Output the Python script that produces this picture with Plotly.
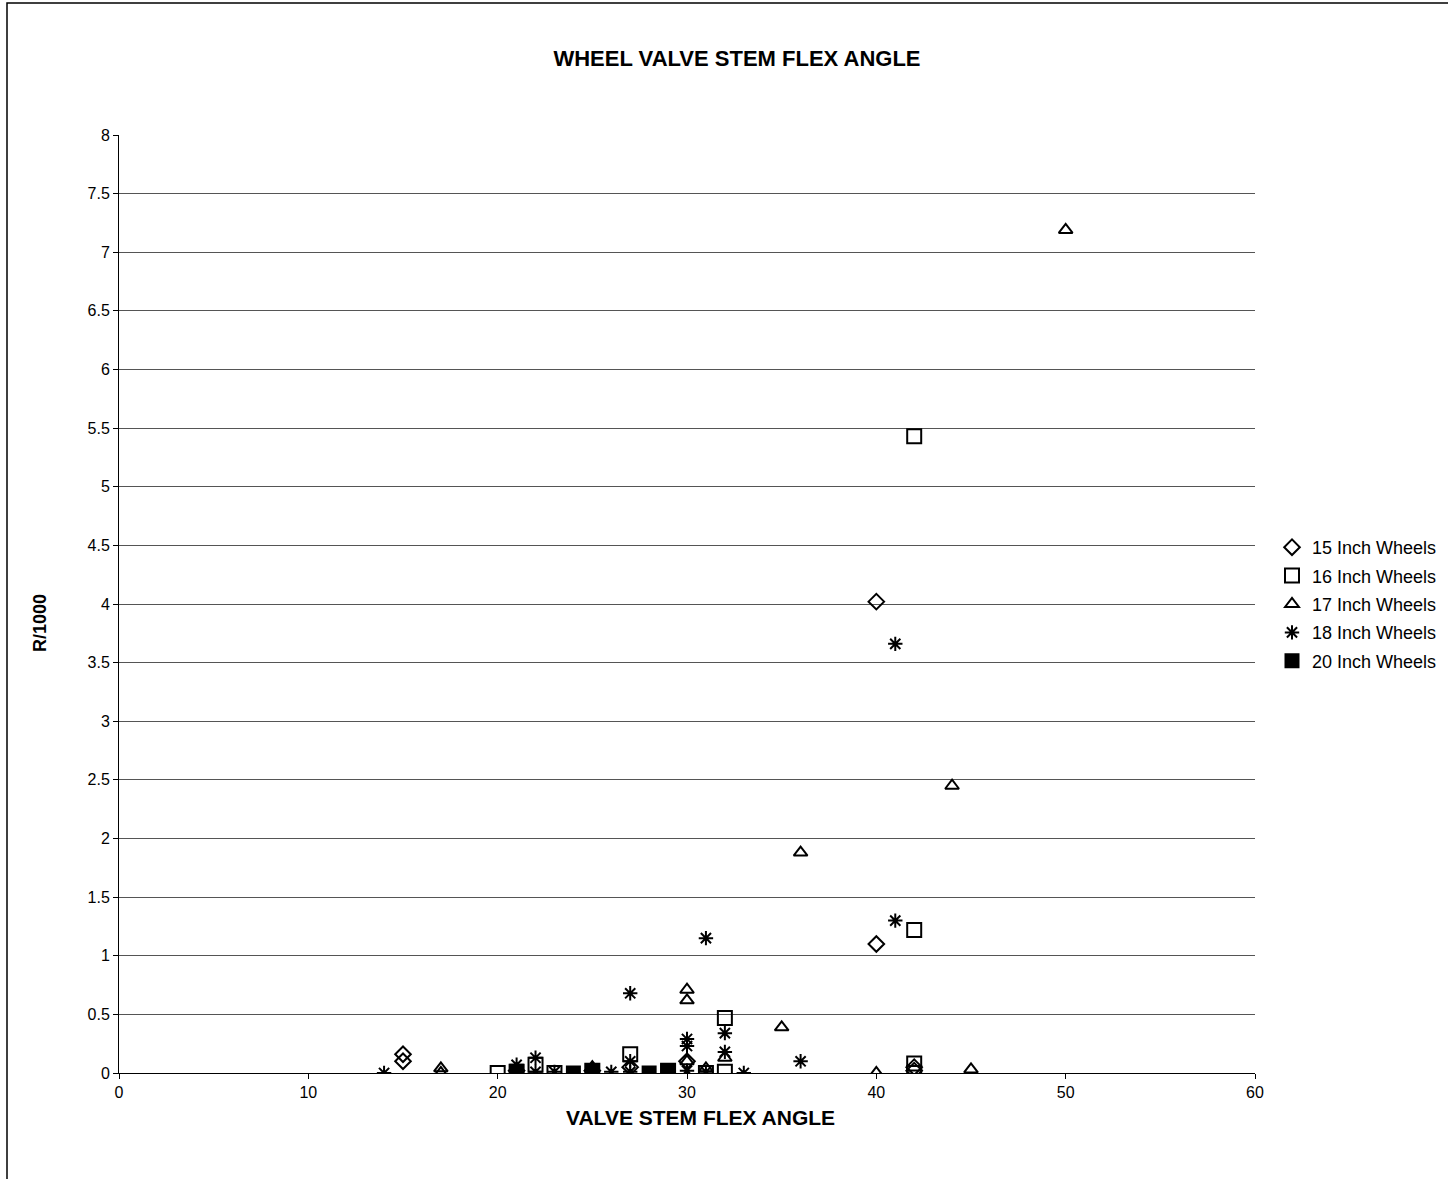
import plotly.graph_objects as go

x15 = [15, 15, 21, 25, 27, 30, 40, 40, 42, 42]
y15 = [0.16, 0.10, 0.02, 0.02, 0.05, 0.10, 4.02, 1.10, 0.05, 0.02]

x16 = [20, 21, 22, 23, 25, 27, 29, 31, 32, 32, 42, 42, 42, 42]
y16 = [0.00, 0.01, 0.07, 0.00, 0.02, 0.16, 0.02, 0.00, 0.47, 0.01, 5.43, 1.22, 0.08, 0.00]

x17 = [17, 17, 21, 25, 30, 30, 30, 31, 32, 35, 36, 40, 44, 45, 50]
y17 = [0.04, 0.00, 0.01, 0.05, 0.71, 0.62, 0.10, 0.04, 0.13, 0.39, 1.88, 0.00, 2.45, 0.03, 7.19]

x18 = [14, 21, 22, 22, 23, 25, 26, 27, 27, 27, 30, 30, 30, 31, 31, 32, 32, 33, 36, 41, 41]
y18 = [0.00, 0.07, 0.13, 0.01, 0.01, 0.01, 0.01, 0.68, 0.10, 0.01, 0.29, 0.23, 0.02, 1.15, 0.01, 0.34, 0.18, 0.00, 0.10, 3.66, 1.30]

x20 = [21, 24, 25, 28, 29, 29]
y20 = [0.01, 0.00, 0.02, 0.00, 0.02, 0.01]

series = [
    ("15 Inch Wheels", x15, y15, "diamond-open", 12),
    ("16 Inch Wheels", x16, y16, "square-open", 14),
    ("17 Inch Wheels", x17, y17, "triangle-up-open", 12),
    ("18 Inch Wheels", x18, y18, "asterisk-open", 12),
    ("20 Inch Wheels", x20, y20, "square", 13),
]

fig = go.Figure()
for name, xs, ys, sym, sz in series:
    fig.add_trace(go.Scatter(
        x=xs, y=ys, mode="markers", name=name, legendgroup=name,
        marker=dict(symbol=sym, size=sz, color="black",
                    line=dict(color="black", width=2)),
    ))

fig.update_layout(
    width=1448, height=1179,
    paper_bgcolor="white", plot_bgcolor="white",
    margin=dict(l=119, r=193, t=135, b=106, autoexpand=False),
    font=dict(family="Liberation Sans, Arial, sans-serif", color="black", size=16),
    title=dict(text="<b>WHEEL VALVE STEM FLEX ANGLE</b>", x=737 / 1448, xanchor="center",
               y=1 - 58 / 1179, yanchor="middle", font=dict(size=22)),
    legend=dict(x=(1272 - 119) / 1136, y=(1073 - 604) / 938, xanchor="left", yanchor="middle",
                font=dict(size=18), itemwidth=30, tracegroupgap=2, traceorder="grouped",
                bgcolor="rgba(0,0,0,0)"),
    showlegend=True,
)
fig.update_xaxes(
    range=[0, 60], tickvals=[0, 10, 20, 30, 40, 50, 60], showgrid=False,
    showline=True, linecolor="black", linewidth=1, ticks="outside", ticklen=5,
    tickcolor="black", zeroline=False, tickfont=dict(size=16),
)
fig.update_yaxes(
    range=[0, 8], dtick=0.5, showgrid=True, gridcolor="#555555", gridwidth=1,
    showline=True, linecolor="black", linewidth=1, ticks="outside", ticklen=5,
    tickcolor="black", zeroline=False, tickfont=dict(size=16),
)
fig.add_annotation(text="<b>VALVE STEM FLEX ANGLE</b>", xref="paper", yref="paper",
                   x=(700 - 119) / 1136, y=(1073 - 1117) / 938,
                   showarrow=False, font=dict(size=21), xanchor="center", yanchor="middle")
fig.add_annotation(text="<b>R/1000</b>", xref="paper", yref="paper",
                   x=(40 - 119) / 1136, y=(1073 - 623) / 938, textangle=-90,
                   showarrow=False, font=dict(size=18), xanchor="center", yanchor="middle")
fig.add_shape(type="rect", xref="paper", yref="paper",
              x0=(7 - 119) / 1136, x1=(1460 - 119) / 1136,
              y0=(1073 - 1190) / 938, y1=(1073 - 3) / 938,
              line=dict(color="black", width=1.5), fillcolor="rgba(0,0,0,0)", layer="below")

fig.write_html("out.html", config={"displayModeBar": False},
               post_script="document.body.style.margin='0';document.documentElement.style.overflow='hidden';")
